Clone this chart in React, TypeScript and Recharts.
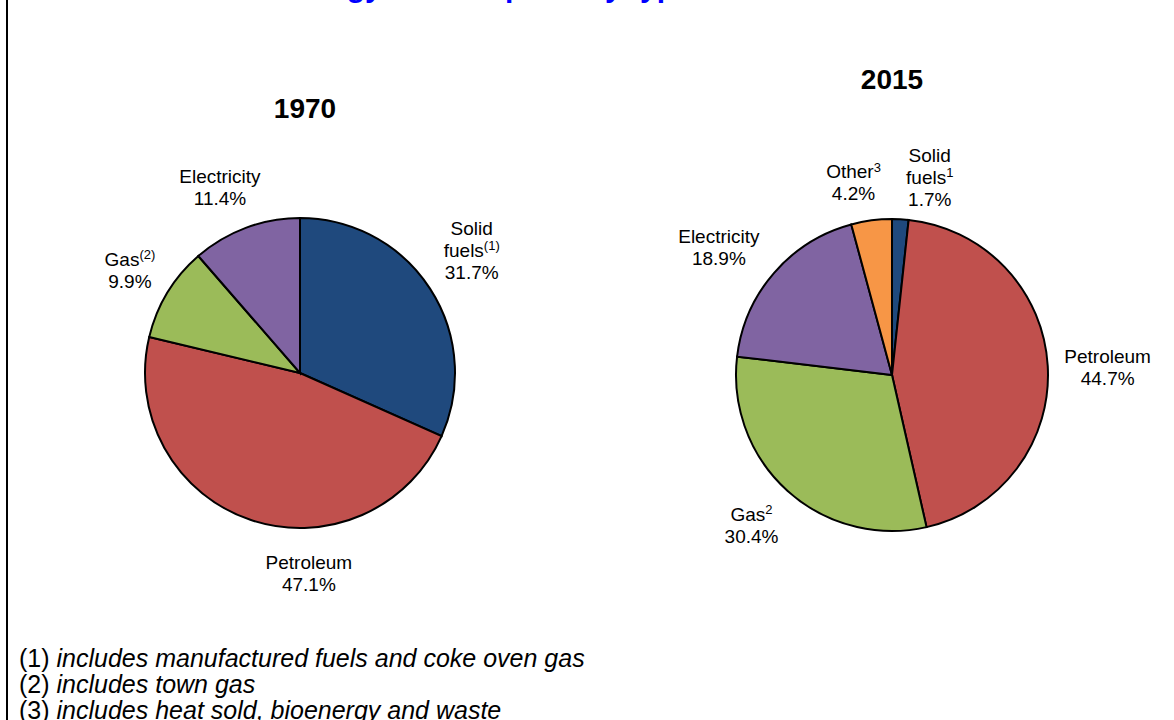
import { PieChart, Pie, Cell } from "recharts";

const CATS_1970 = ["Solid fuels", "Petroleum", "Gas", "Electricity"];
const VALUES_1970 = [31.7, 47.1, 9.9, 11.4];
const SUPS_1970 = ["(1)", "", "(2)", ""];

const CATS_2015 = ["Solid fuels", "Petroleum", "Gas", "Electricity", "Other"];
const VALUES_2015 = [1.7, 44.7, 30.4, 18.9, 4.2];
const SUPS_2015 = ["1", "", "2", "", "3"];

const YEARS = ["1970", "2015"];
const TITLE = ["Chart 1.1:", "Final energy consumption by type of fuel"];
const NOTE_MARKS = ["(1)", "(2)", "(3)"];
const NOTE_TEXTS = [
  "includes manufactured fuels and coke oven gas",
  "includes town gas",
  "includes heat sold, bioenergy and waste",
];

const COLORS: Record<string, string> = {
  "Solid fuels": "#1F497D",
  Petroleum: "#C0504D",
  Gas: "#9BBB59",
  Electricity: "#8064A2",
  Other: "#F79646",
};

// excel-ish label placement tweaks around the radial anchor
const NUDGE_1970: Record<string, [number, number]> = {
  "Solid fuels": [4, -14],
  Petroleum: [73, 11],
  Gas: [1, 1],
  Electricity: [-10, 2],
};
const NUDGE_2015: Record<string, [number, number]> = {
  "Solid fuels": [27, 3],
  Petroleum: [15, 4],
  Gas: [-6, 1],
  Electricity: [-21, 4],
  Other: [-12, 7],
};

const FONT = "Liberation Sans, Arial, sans-serif";
const RAD = Math.PI / 180;

const build = (cats: string[], vals: number[], sups: string[]) =>
  cats.map((name, i) => ({ name, value: vals[i], sup: sups[i] }));

const makeLabel = (nudge: Record<string, [number, number]>) => (p: any) => {
  const r = p.outerRadius + 45;
  const [nx, ny] = nudge[p.name] || [0, 0];
  const bx = p.cx + r * Math.cos(-p.midAngle * RAD) + nx;
  const by = p.cy + r * Math.sin(-p.midAngle * RAD) + ny;
  const words = String(p.name).split(" ");
  const sup = p.payload?.sup || "";
  const lines: { t: string; sup: string }[] = words.map((w, i) => ({
    t: w,
    sup: i === words.length - 1 ? sup : "",
  }));
  lines.push({ t: `${Number(p.value).toFixed(1)}%`, sup: "" });
  const lh = 22;
  const y0 = by - ((lines.length - 1) * lh) / 2;
  return (
    <g key={`lbl-${p.name}`}>
      {lines.map((ln, i) => (
        <text
          key={i}
          x={bx}
          y={y0 + i * lh}
          textAnchor="middle"
          dominantBaseline="central"
          fontFamily={FONT}
          fontSize={19}
          fill="#000"
        >
          {ln.t}
          {ln.sup && (
            <tspan fontSize={13} dy={-5}>
              {ln.sup}
            </tspan>
          )}
        </text>
      ))}
    </g>
  );
};

const titleStyle = {
  position: "absolute" as const,
  top: -30,
  fontSize: 30,
  fontWeight: "bold" as const,
  color: "#0000FF",
  whiteSpace: "nowrap" as const,
  lineHeight: "34px",
};

export default function App() {
  const d1970 = build(CATS_1970, VALUES_1970, SUPS_1970);
  const d2015 = build(CATS_2015, VALUES_2015, SUPS_2015);
  return (
    <div
      style={{
        position: "absolute",
        left: 0,
        top: 0,
        width: 1174,
        height: 720,
        background: "#fff",
        overflow: "hidden",
        fontFamily: FONT,
      }}
    >
      <div style={{ position: "absolute", left: 6, top: 0, width: 2, height: 720, background: "#000" }} />
      <div style={{ ...titleStyle, left: 20 }}>{TITLE[0]}</div>
      <div style={{ ...titleStyle, left: 205 }}>{TITLE[1]}</div>
      <PieChart
        width={1174}
        height={720}
        margin={{ top: 0, right: 0, bottom: 0, left: 0 }}
        style={{ position: "absolute", left: 0, top: 0 }}
      >
        <text x={305} y={108} textAnchor="middle" dominantBaseline="central" fontFamily={FONT} fontSize={28} fontWeight="bold" fill="#000">
          {YEARS[0]}
        </text>
        <text x={892} y={79} textAnchor="middle" dominantBaseline="central" fontFamily={FONT} fontSize={28} fontWeight="bold" fill="#000">
          {YEARS[1]}
        </text>
        <Pie
          data={d1970}
          dataKey="value"
          nameKey="name"
          cx={300}
          cy={373}
          outerRadius={155}
          startAngle={90}
          endAngle={-270}
          stroke="#000"
          strokeWidth={2}
          label={makeLabel(NUDGE_1970)}
          labelLine={false}
          isAnimationActive={false}
        >
          {d1970.map((e) => (
            <Cell key={e.name} fill={COLORS[e.name]} />
          ))}
        </Pie>
        <Pie
          data={d2015}
          dataKey="value"
          nameKey="name"
          cx={892}
          cy={375}
          outerRadius={156}
          startAngle={90}
          endAngle={-270}
          stroke="#000"
          strokeWidth={2}
          label={makeLabel(NUDGE_2015)}
          labelLine={false}
          isAnimationActive={false}
        >
          {d2015.map((e) => (
            <Cell key={e.name} fill={COLORS[e.name]} />
          ))}
        </Pie>
      </PieChart>
      {NOTE_MARKS.map((m, i) => (
        <div
          key={m}
          style={{
            position: "absolute",
            left: 19,
            top: 658 + i * 26 - 14,
            fontSize: 25,
            lineHeight: "28px",
            color: "#000",
            whiteSpace: "nowrap",
          }}
        >
          {m} <i>{NOTE_TEXTS[i]}</i>
        </div>
      ))}
    </div>
  );
}
